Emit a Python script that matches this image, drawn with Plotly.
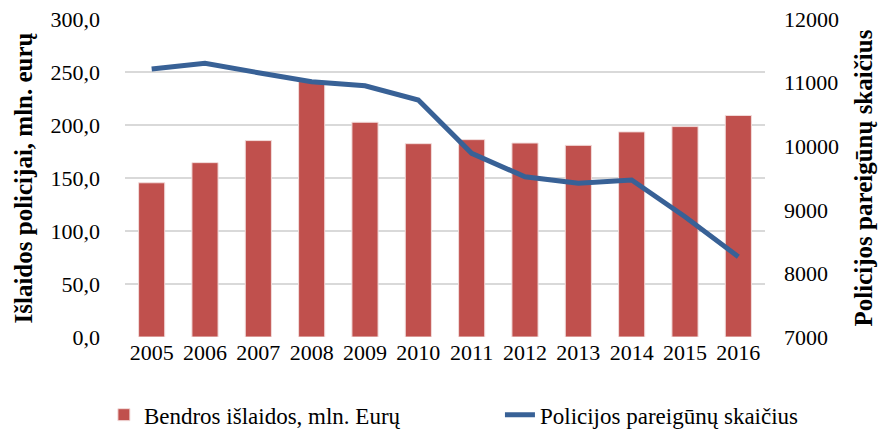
import plotly.graph_objects as go

years = ["2005", "2006", "2007", "2008", "2009", "2010",
         "2011", "2012", "2013", "2014", "2015", "2016"]
spending = [145.5, 164.5, 185.3, 241.0, 202.6, 182.4,
            186.2, 183.0, 180.8, 193.5, 198.5, 209.0]
officers = [11214, 11303, 11156, 11014, 10951, 10727,
            9888, 9520, 9417, 9469, 8892, 8263]

FONT = "Liberation Serif"

fig = go.Figure()
fig.add_trace(go.Bar(
    x=years, y=spending, name="Bendros išlaidos, mln. Eurų",
    marker=dict(color="#C0504D", line=dict(color="#F2DCDB", width=1)),
    width=0.49, legend="legend",
))
fig.add_trace(go.Scatter(
    x=years, y=officers, name="Policijos pareigūnų skaičius",
    mode="lines", yaxis="y2", legend="legend2",
    line=dict(color="#386196", width=5),
))

legend_common = dict(orientation="h", xanchor="left", xref="container",
                     yref="container", y=0.065, yanchor="middle",
                     font=dict(size=23))

# the page adds an 8px body margin, so margins are shifted by 8px
fig.update_layout(
    width=888, height=435,
    margin=dict(l=117, r=131, t=11, b=106),
    plot_bgcolor="white", paper_bgcolor="white",
    font=dict(family=FONT, size=22, color="#000"),
    separators=",.",
    showlegend=True,
    legend=dict(x=0.108, **legend_common),
    legend2=dict(x=0.554, **legend_common),
    xaxis=dict(showgrid=False, showline=False, ticks="", automargin=False,
               ticklabeloverflow="allow"),
    yaxis=dict(range=[0, 300], dtick=50, tickformat=".1f", automargin=False,
               gridcolor="#D9D9D9", gridwidth=1.5, zeroline=False,
               ticklabelstandoff=24, ticklabeloverflow="allow",
               title=dict(text="<b>Išlaidos policijai, mln. eurų</b>", font=dict(size=25),
                          standoff=10)),
    yaxis2=dict(range=[7000, 12000], dtick=1000, tickformat="d", automargin=False,
                overlaying="y", side="right", showgrid=False, zeroline=False,
                ticklabelstandoff=18, ticklabeloverflow="allow",
                title=dict(text="<b>Policijos pareigūnų skaičius</b>", font=dict(size=25),
                           standoff=16)),
    bargap=0.5,
)

fig.write_html("out.html")
